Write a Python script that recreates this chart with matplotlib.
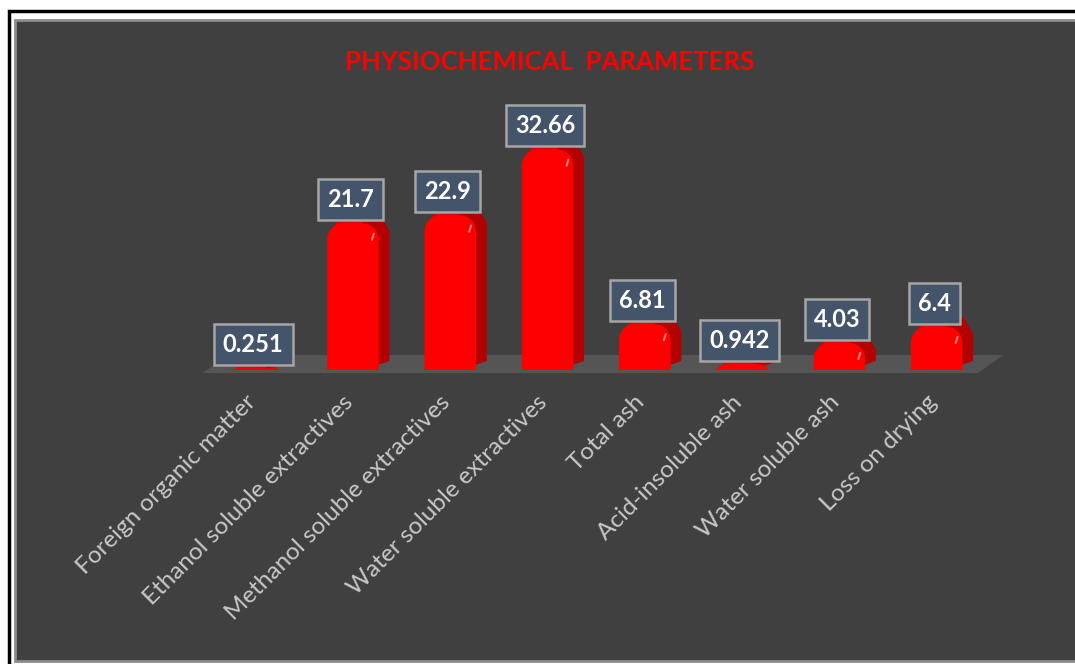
import matplotlib.pyplot as plt
import numpy as np
from matplotlib.patches import Polygon, Rectangle
from matplotlib.transforms import ScaledTranslation

plt.rcParams['font.family'] = ['Lato', 'DejaVu Sans']

categories = ["Foreign organic matter", "Ethanol soluble extractives",
              "Methanol soluble extractives", "Water soluble extractives",
              "Total ash", "Acid-insoluble ash", "Water soluble ash", "Loss on drying"]
values = [0.251, 21.7, 22.9, 32.66, 6.81, 0.942, 4.03, 6.4]
value_labels = ["0.251", "21.7", "22.9", "32.66", "6.81", "0.942", "4.03", "6.4"]
title = "PHYSIOCHEMICAL  PARAMETERS"

W, H = 1075, 664
BG = "#404040"
RED = "#FF0000"
DARK_RED = "#B30000"
TOP_RED = "#E80000"

fig = plt.figure(figsize=(W / 100, H / 100), dpi=100, facecolor="white")


def px_box(x0, y0, x1, y1):
    # pixel box (origin top-left) -> figure fraction rect
    return (x0 / W, 1 - y1 / H), (x1 - x0) / W, (y1 - y0) / H


# outer frame + dark panel (behind the axes)
xy, w, h = px_box(9, 11, W + 20, H + 20)
fig.add_artist(Rectangle(xy, w, h, transform=fig.transFigure, fill=False,
                         edgecolor="black", linewidth=2.5, zorder=-10))
xy, w, h = px_box(15, 20, W + 20, 661)
fig.add_artist(Rectangle(xy, w, h, transform=fig.transFigure, facecolor=BG,
                         edgecolor="#8C8C8C", linewidth=2, zorder=-9))

fig.text(550 / W, 1 - 62 / H, title, color="red", fontsize=18.5, fontweight="bold",
         ha="center", va="center")

# axes: x index 0 -> 262px, index 7 -> 943px ; y 0 -> 370px, 40 -> 100px
ux = (943 - 262) / 7
uy = 270 / 40
xlim = (-0.8, 7.8)
ylim = (-1, 40)
left_px = 262 + xlim[0] * ux
right_px = 262 + xlim[1] * ux
bot_px = 370 - ylim[0] * uy
top_px = 370 - ylim[1] * uy
ax = fig.add_axes([left_px / W, 1 - bot_px / H, (right_px - left_px) / W, (bot_px - top_px) / H])
ax.set_xlim(*xlim)
ax.set_ylim(*ylim)
ax.patch.set_alpha(0)
for s in ax.spines.values():
    s.set_visible(False)
ax.set_yticks([])

# floor slab
dx, dy = 25 / ux, 18 / uy
floor = Polygon([(-0.61, -0.45), (7.36, -0.45), (7.36 + dx, -0.45 + dy), (-0.61 + dx, -0.45 + dy)],
                closed=True, facecolor="#555555", edgecolor="none", zorder=1)
ax.add_patch(floor)

x = np.arange(len(values))
rx = 16 / ux
t = np.linspace(0, np.pi / 2, 14)
side = 0.11
sh = 9 / uy
for i, v in zip(x, values):
    x0, x1 = i - 0.33, i + 0.20
    ry = min(16 / uy, v)
    # top face (depth) and right side face
    ax.add_patch(Polygon([(x0 + rx * 0.3, v - ry * 0.3), (x1 - rx * 0.3, v - ry * 0.3),
                          (x1 + side - rx * 0.4, v + sh), (x0 + side + rx * 0.4, v + sh)],
                         closed=True, facecolor=TOP_RED, edgecolor="none", zorder=2))
    ax.add_patch(Polygon([(x1 - rx, 0), (x1 + side, sh), (x1 + side, v + sh - ry),
                          (x1 + side - rx * 0.6, v + sh), (x1 - rx, v + sh)],
                         closed=True, facecolor=DARK_RED, edgecolor="none", zorder=2))
    # front face with rounded top corners
    left_arc = [(x0 + rx - rx * np.cos(a), v - ry + ry * np.sin(a)) for a in t]
    right_arc = [(x1 - rx + rx * np.sin(a), v - ry + ry * np.cos(a)) for a in t]
    pts = [(x0, 0)] + left_arc + right_arc + [(x1, 0)]
    ax.add_patch(Polygon(pts, closed=True, facecolor=RED, edgecolor="none", zorder=3))
    # small highlight
    if v > 2:
        ax.plot([x1 - 0.07, x1 - 0.05], [v - 2.4, v - 1.5], color="white",
                alpha=0.5, linewidth=1.5, zorder=4, solid_capstyle="round")

for i, v, lab in zip(x, values, value_labels):
    ax.annotate(lab, xy=(i - 0.09, v), xytext=(0, 17), textcoords="offset points",
                ha="center", va="center", color="white", fontsize=17, fontweight="bold",
                zorder=6,
                bbox=dict(boxstyle="square,pad=0.38", facecolor="#44546A",
                          edgecolor="#A6A6A6", linewidth=1.8))

ax.set_xticks(x)
ax.set_xticklabels(categories)
ax.tick_params(axis="x", length=0, pad=16, labelcolor="#C8C8C8", labelsize=17.5)
shift = ScaledTranslation(-7 / 72, 0, fig.dpi_scale_trans)
for lab in ax.get_xticklabels():
    lab.set_rotation(45)
    lab.set_ha("right")
    lab.set_va("center")
    lab.set_rotation_mode("anchor")
    lab.set_transform(lab.get_transform() + shift)

fig.savefig("out.png", dpi=100, facecolor="white")
